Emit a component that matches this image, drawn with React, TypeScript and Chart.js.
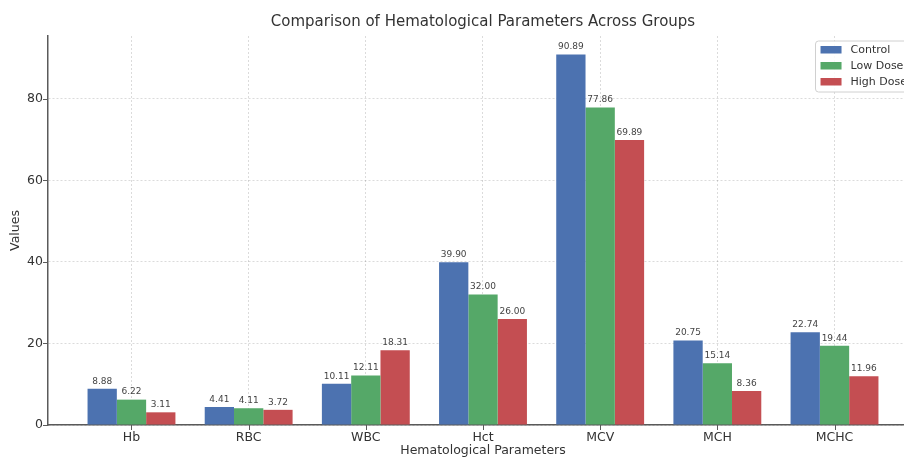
import React, { useEffect, useRef } from "react";
import { Chart, registerables } from "chart.js";

Chart.register(...registerables);

const categories = ["Hb", "RBC", "WBC", "Hct", "MCV", "MCH", "MCHC"];
const controlValues = [8.88, 4.41, 10.11, 39.9, 90.89, 20.75, 22.74];
const lowDoseValues = [6.22, 4.11, 12.11, 32.0, 77.86, 15.14, 19.44];
const highDoseValues = [3.11, 3.72, 18.31, 26.0, 69.89, 8.36, 11.96];
const yTickValues = [0, 20, 40, 60, 80];
const seriesNames = ["Control", "Low Dose", "High Dose"];
const seriesColors = ["#4C72B0", "#55A868", "#C44E52"];
const chartTitle = "Comparison of Hematological Parameters Across Groups";

const FONT = "'DejaVu Sans', sans-serif";
const SPINE = "#5a5a5a";

const titlePlugin = {
  id: "axesTitle",
  afterDraw(chart: any) {
    const ctx = chart.ctx;
    const { left, right, top } = chart.chartArea;
    ctx.save();
    ctx.font = `15px ${FONT}`;
    ctx.fillStyle = "#333";
    ctx.textAlign = "center";
    ctx.textBaseline = "middle";
    ctx.fillText(chartTitle, (left + right) / 2, top - 14);
    ctx.restore();
  },
};

const valueLabelPlugin = {
  id: "valueLabels",
  afterDatasetsDraw(chart: any) {
    const ctx = chart.ctx;
    ctx.save();
    ctx.font = `9px ${FONT}`;
    ctx.fillStyle = "#444";
    ctx.textAlign = "center";
    ctx.textBaseline = "bottom";
    chart.data.datasets.forEach((ds: any, di: number) => {
      const meta = chart.getDatasetMeta(di);
      meta.data.forEach((el: any, i: number) => {
        const v = ds.data[i].y;
        ctx.fillText(v.toFixed(2), el.x, el.y - 3);
      });
    });
    ctx.restore();
  },
};

const tickMarkPlugin = {
  id: "tickMarks",
  afterDraw(chart: any) {
    const ctx = chart.ctx;
    const { left, bottom } = chart.chartArea;
    ctx.save();
    ctx.strokeStyle = SPINE;
    ctx.lineWidth = 1;
    const ys = chart.scales.y;
    yTickValues.forEach((v) => {
      const p = Math.round(ys.getPixelForValue(v)) + 0.5;
      ctx.beginPath();
      ctx.moveTo(left - 5, p);
      ctx.lineTo(left, p);
      ctx.stroke();
    });
    const xs = chart.scales.x;
    categories.forEach((_, i) => {
      const p = Math.round(xs.getPixelForValue(i)) + 0.5;
      ctx.beginPath();
      ctx.moveTo(p, bottom);
      ctx.lineTo(p, bottom + 5);
      ctx.stroke();
    });
    ctx.restore();
  },
};

const legendBoxPlugin = {
  id: "legendBox",
  afterDraw(chart: any) {
    const ctx = chart.ctx;
    const { right, top } = chart.chartArea;
    ctx.save();
    ctx.font = `11px ${FONT}`;
    const maxW = Math.max(...seriesNames.map((n) => ctx.measureText(n).width));
    const w = maxW + 35 + 6;
    const h = 51;
    const bx = right - 5 - w;
    const by = top + 5;
    ctx.beginPath();
    const r = 3;
    ctx.moveTo(bx + r, by);
    ctx.lineTo(bx + w - r, by);
    ctx.quadraticCurveTo(bx + w, by, bx + w, by + r);
    ctx.lineTo(bx + w, by + h - r);
    ctx.quadraticCurveTo(bx + w, by + h, bx + w - r, by + h);
    ctx.lineTo(bx + r, by + h);
    ctx.quadraticCurveTo(bx, by + h, bx, by + h - r);
    ctx.lineTo(bx, by + r);
    ctx.quadraticCurveTo(bx, by, bx + r, by);
    ctx.closePath();
    ctx.fillStyle = "rgba(255,255,255,0.85)";
    ctx.fill();
    ctx.strokeStyle = "#d0d0d0";
    ctx.lineWidth = 1;
    ctx.stroke();
    ctx.textBaseline = "middle";
    ctx.textAlign = "left";
    seriesNames.forEach((n, i) => {
      const cy = by + 9 + i * 16;
      ctx.fillStyle = seriesColors[i];
      ctx.fillRect(bx + 5, cy - 4, 21, 7.5);
      ctx.fillStyle = "#333";
      ctx.fillText(n, bx + 35, cy);
    });
    ctx.restore();
  },
};

export default function App() {
  const canvasRef = useRef<HTMLCanvasElement | null>(null);

  useEffect(() => {
    if (!canvasRef.current) return;
    const series = [controlValues, lowDoseValues, highDoseValues];
    const chart = new Chart(canvasRef.current, {
      type: "bar",
      data: {
        datasets: series.map((vals, si) => ({
          label: seriesNames[si],
          data: vals.map((v, i) => ({ x: i, y: v })),
          backgroundColor: seriesColors[si],
          borderWidth: 0,
          categoryPercentage: 0.75,
          barPercentage: 1.0,
        })),
      },
      options: {
        responsive: false,
        animation: false,
        layout: { padding: { left: 0, right: 12, top: 36, bottom: 0 } },
        plugins: {
          legend: { display: false },
          tooltip: { enabled: false },
          title: { display: false },
        },
        scales: {
          x: {
            type: "linear",
            min: -0.7125,
            max: 6.7125,
            offset: false,
            afterBuildTicks: (scale: any) => {
              scale.ticks = categories.map((_, i) => ({ value: i }));
            },
            afterFit: (scale: any) => {
              scale.height = 33;
            },
            ticks: {
              autoSkip: false,
              maxRotation: 0,
              padding: 5,
              color: "#333",
              font: { family: FONT, size: 12.5 },
              callback: (v: any) => categories[v] ?? "",
            },
            grid: {
              offset: false,
              drawTicks: false,
              color: "rgba(0,0,0,0.14)",
              lineWidth: 1,
            },
            border: { display: true, color: SPINE, width: 1.5, dash: [2, 2] },
            title: {
              display: true,
              text: "Hematological Parameters",
              color: "#333",
              font: { family: FONT, size: 12.5 },
              padding: { top: 0, bottom: 0 },
            },
          },
          y: {
            type: "linear",
            min: 0,
            max: 95.4,
            afterBuildTicks: (scale: any) => {
              scale.ticks = yTickValues.map((v) => ({ value: v }));
            },
            afterFit: (scale: any) => {
              scale.width = 48;
            },
            ticks: {
              padding: 5,
              color: "#333",
              font: { family: FONT, size: 12.5 },
            },
            grid: {
              drawTicks: false,
              color: "rgba(0,0,0,0.14)",
              lineWidth: 1,
            },
            border: { display: true, color: SPINE, width: 1.5, dash: [2, 2] },
            title: {
              display: true,
              text: "Values",
              color: "#333",
              font: { family: FONT, size: 12.5 },
              padding: { top: 8, bottom: 0 },
            },
          },
        },
      } as any,
      plugins: [titlePlugin, valueLabelPlugin, tickMarkPlugin, legendBoxPlugin],
    });
    return () => chart.destroy();
  }, []);

  return (
    <div
      style={{
        position: "fixed",
        left: 0,
        top: 0,
        width: 904,
        height: 458,
        overflow: "hidden",
        background: "#fff",
      }}
    >
      <canvas ref={canvasRef} width={930} height={458} style={{ display: "block" }} />
    </div>
  );
}
